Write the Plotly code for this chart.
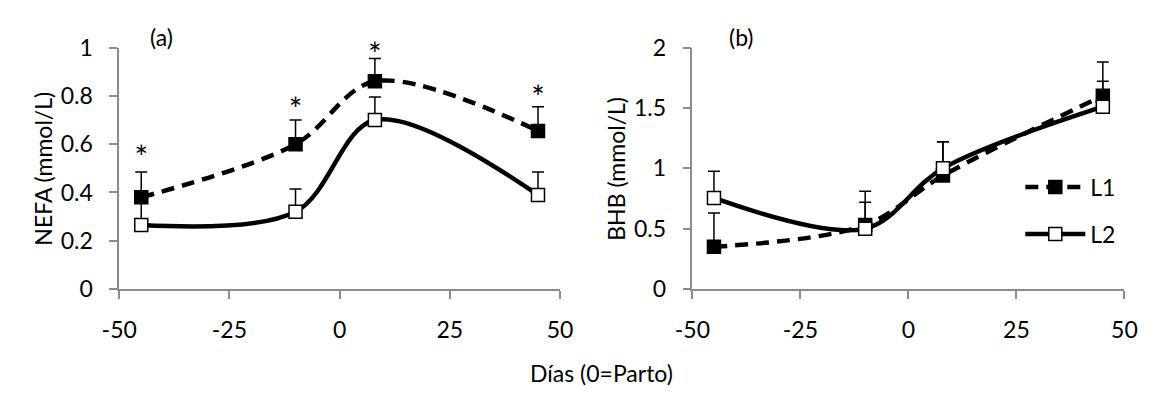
import plotly.graph_objects as go

# ---- data ----
days = [-45, -10, 8, 45]

nefa_l1 = [0.38, 0.60, 0.86, 0.655]
nefa_l1_err = [0.105, 0.10, 0.095, 0.10]
nefa_l2 = [0.265, 0.32, 0.70, 0.39]
nefa_l2_err = [0.10, 0.095, 0.095, 0.095]
nefa_star = [0.53, 0.73, 0.955, 0.78]

bhb_l1 = [0.35, 0.53, 0.94, 1.60]
bhb_l1_err = [0.28, 0.19, 0.28, 0.12]
bhb_l2 = [0.755, 0.50, 1.00, 1.51]
bhb_l2_err = [0.22, 0.31, 0.22, 0.37]

x_ticks = [-50, -25, 0, 25, 50]
x_labels = ["-50", "-25", "0", "25", "50"]
nefa_ticks = [0, 0.2, 0.4, 0.6, 0.8, 1]
nefa_labels = ["0", "0.2", "0.4", "0.6", "0.8", "1"]
bhb_ticks = [0, 0.5, 1, 1.5, 2]
bhb_labels = ["0", "0.5", "1", "1.5", "2"]

FONT = "Lato"
FS = 23
W, H = 1153, 396

fig = go.Figure()


def add_series(x, y, err, name, xa, ya, filled, show):
    fig.add_trace(go.Scatter(
        x=x, y=y, name=name, xaxis=xa, yaxis=ya,
        mode="lines+markers",
        legendgroup=name, showlegend=show,
        line=dict(color="black", width=4.5, shape="spline", smoothing=0.95,
                  dash="13px,8px" if filled else "solid"),
        marker=dict(symbol="square", size=13,
                    color="black" if filled else "white",
                    line=dict(color="black", width=1.5)),
        error_y=dict(type="data", array=err, arrayminus=[0] * len(err),
                     symmetric=False, color="black", thickness=1.5, width=6),
    ))


add_series(days, nefa_l1, nefa_l1_err, "L1", "x", "y", True, False)
add_series(days, nefa_l2, nefa_l2_err, "L2", "x", "y", False, False)
add_series(days, bhb_l1, bhb_l1_err, "L1", "x2", "y2", True, True)
add_series(days, bhb_l2, bhb_l2_err, "L2", "x2", "y2", False, True)

fig.add_trace(go.Scatter(
    x=days, y=nefa_star, xaxis="x", yaxis="y", mode="text",
    text=["*"] * len(days), textposition="middle center",
    textfont=dict(family=FONT, size=32, color="black"),
    showlegend=False, cliponaxis=False, hoverinfo="skip",
))

axis_common = dict(
    showline=True, linecolor="#8c8c8c", linewidth=1.5,
    ticks="outside", ticklen=8, tickwidth=1.5, tickcolor="#8c8c8c",
    showgrid=False, zeroline=False,
    tickfont=dict(family=FONT, size=FS, color="black"),
)

x1 = [104 / W, 557 / W]
x2 = [693 / W, 1137 / W]
ydom = [(H - 295) / H, (H - 35) / H]

fig.update_layout(
    width=W, height=H,
    margin=dict(l=0, r=0, t=0, b=0),
    paper_bgcolor="white", plot_bgcolor="white",
    font=dict(family=FONT, size=FS, color="black"),
    xaxis=dict(domain=x1, range=[-50, 50], tickvals=x_ticks, ticktext=x_labels,
               anchor="y", ticklabelstandoff=12, **axis_common),
    yaxis=dict(domain=ydom, range=[0, 1], tickvals=nefa_ticks, ticktext=nefa_labels,
               anchor="x", ticklabelstandoff=12, **axis_common),
    xaxis2=dict(domain=x2, range=[-50, 50], tickvals=x_ticks, ticktext=x_labels,
                anchor="y2", ticklabelstandoff=12, **axis_common),
    yaxis2=dict(domain=ydom, range=[0, 2], tickvals=bhb_ticks, ticktext=bhb_labels,
                anchor="x2", ticklabelstandoff=12, **axis_common),
    legend=dict(x=1030 / W, y=(H - 162) / H, xanchor="left", yanchor="top",
                bgcolor="rgba(0,0,0,0)", font=dict(family=FONT, size=FS),
                itemwidth=60, tracegroupgap=14, traceorder="grouped"),
    showlegend=True,
)

ann = [
    dict(text="NEFA (mmol/L)", x=26 / W, y=(H - 165) / H, textangle=-90),
    dict(text="BHB (mmol/L)", x=615 / W, y=(H - 165) / H, textangle=-90),
    dict(text="(a)", x=147 / W, y=(H - 24) / H),
    dict(text="(b)", x=744 / W, y=(H - 24) / H),
    dict(text="Días (0=Parto)", x=600 / W, y=(H - 385) / H),
]
for a in ann:
    fig.add_annotation(xref="paper", yref="paper", showarrow=False,
                       xanchor="center", yanchor="middle",
                       font=dict(family=FONT, size=FS, color="black"), **a)

fig.write_html("out.html")
